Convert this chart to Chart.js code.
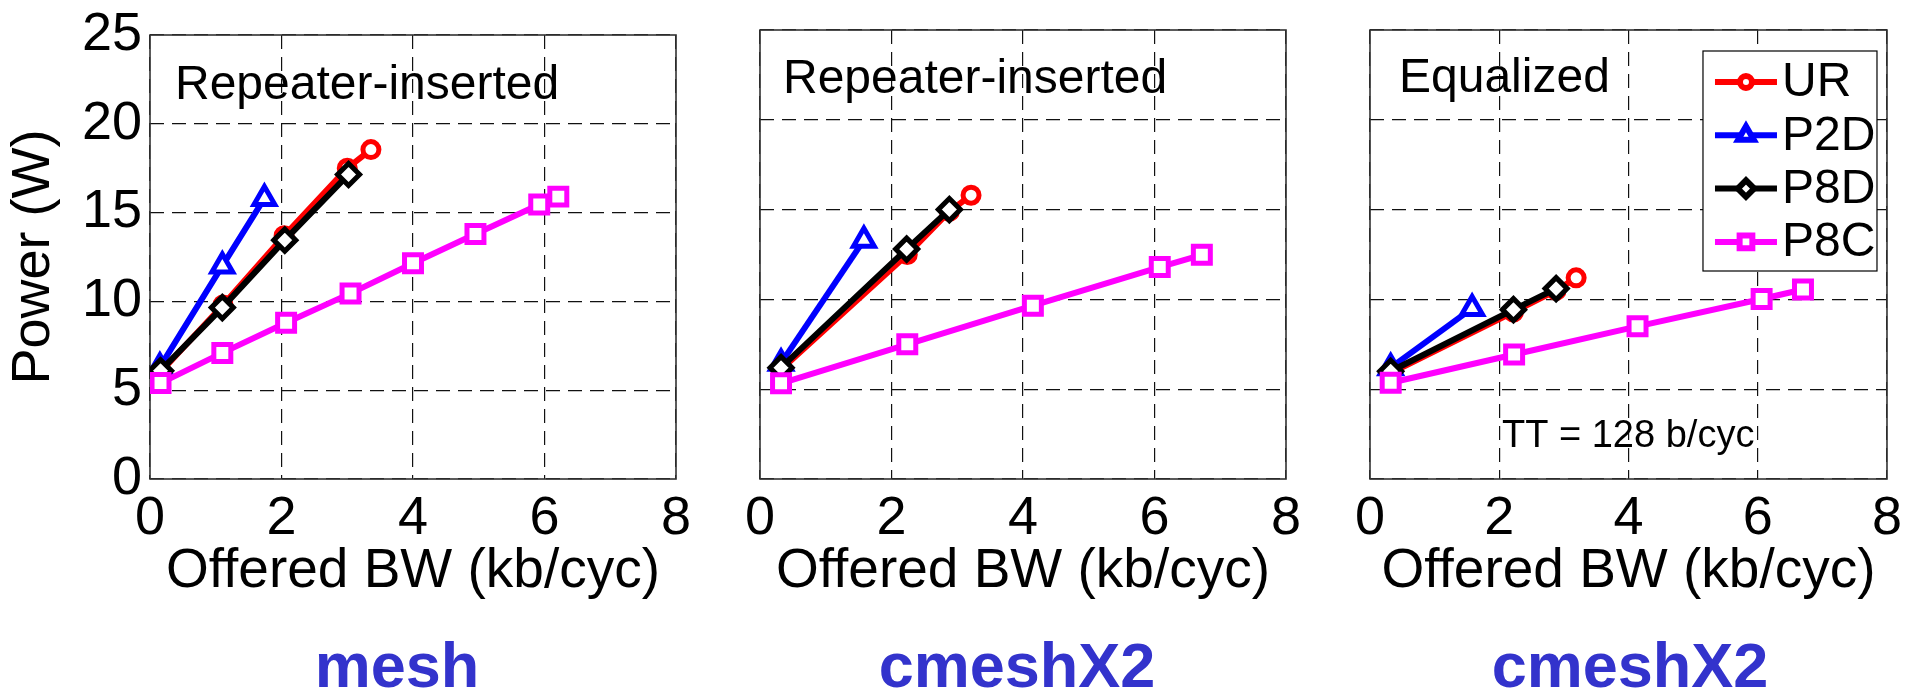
<!DOCTYPE html>
<html>
<head>
<meta charset="utf-8">
<script src="https://cdn.jsdelivr.net/npm/chart.js@4.4.0/dist/chart.umd.min.js"></script>
<style>
  html, body { margin: 0; padding: 0; background: #fff; }
  body { width: 1915px; height: 691px; position: relative; overflow: hidden; }
  canvas { position: absolute; top: 0; }
  .net { position: absolute; top: 634px; width: 400px; text-align: center;
         font: bold 63px/63px "Liberation Sans", Arial, sans-serif; color: #3333cc; }
</style>
</head>
<body>
<canvas id="p1" width="720" height="691" style="left:0px"></canvas>
<canvas id="p2" width="610" height="691" style="left:720px"></canvas>
<canvas id="p3" width="585" height="691" style="left:1330px"></canvas>
<div class="net" style="left:197px">mesh</div>
<div class="net" style="left:817px">cmeshX2</div>
<div class="net" style="left:1430px">cmeshX2</div>
<script>
// axis ticks
const bwTicks = [0, 2, 4, 6, 8];
const powerTicks = [0, 5, 10, 15, 20, 25];
const seriesNames = ['UR', 'P2D', 'P8D', 'P8C'];
const panelNotes = ['Repeater-inserted', 'Repeater-inserted', 'Equalized'];
const ttNote = 'TT = 128 b/cyc';

// mesh, repeater-inserted
const meshUR_bw  = [0.13, 1.11, 2.04, 3.00, 3.36];
const meshUR_pw  = [5.9, 9.8, 13.7, 17.5, 18.55];
const meshP2D_bw = [0.15, 1.10, 1.74];
const meshP2D_pw = [6.3, 12.0, 15.8];
const meshP8D_bw = [0.16, 1.10, 2.05, 3.02];
const meshP8D_pw = [6.1, 9.65, 13.45, 17.15];
const meshP8C_bw = [0.16, 1.10, 2.07, 3.05, 4.00, 4.95, 5.92, 6.21];
const meshP8C_pw = [5.4, 7.1, 8.8, 10.45, 12.15, 13.8, 15.45, 15.9];

// cmeshX2, repeater-inserted
const cmUR_bw  = [0.32, 2.24, 2.88, 3.21];
const cmUR_pw  = [6.1, 12.5, 14.9, 15.8];
const cmP2D_bw = [0.32, 1.58];
const cmP2D_pw = [6.45, 13.3];
const cmP8D_bw = [0.32, 2.23, 2.88];
const cmP8D_pw = [6.2, 12.8, 15.0];
const cmP8C_bw = [0.32, 2.24, 4.15, 6.08, 6.72];
const cmP8C_pw = [5.33, 7.5, 9.65, 11.8, 12.48];

// cmeshX2, equalized
const eqUR_bw  = [0.32, 2.22, 2.88, 3.19];
const eqUR_pw  = [5.9, 9.3, 10.5, 11.2];
const eqP2D_bw = [0.32, 1.58];
const eqP2D_pw = [6.2, 9.5];
const eqP8D_bw = [0.32, 2.22, 2.88];
const eqP8D_pw = [6.0, 9.43, 10.6];
const eqP8C_bw = [0.32, 2.23, 4.14, 6.06, 6.70];
const eqP8C_pw = [5.36, 6.93, 8.5, 10.02, 10.55];

const FONT = '"Liberation Sans", Arial, sans-serif';
Chart.defaults.font.family = FONT;
Chart.defaults.color = '#000';

const styles = {
  UR:  { color: '#ff0000', point: 'circle',   r: 8,  order: 4 },
  P2D: { color: '#0000ff', point: 'triangle', r: 12, order: 3 },
  P8D: { color: '#000000', point: 'rectRot',  r: 11, order: 2 },
  P8C: { color: '#ff00ff', point: 'rect',     r: 12, order: 1 }
};

function series(name, bw, pw) {
  const s = styles[name];
  return {
    label: name,
    data: bw.map((x, i) => ({ x: x, y: pw[i] })),
    borderColor: s.color,
    backgroundColor: '#fff',
    borderWidth: 6,
    pointStyle: s.point,
    pointRadius: s.r,
    pointBorderWidth: 5,
    pointBorderColor: s.color,
    pointBackgroundColor: '#fff',
    order: s.order
  };
}

// plot frame, text notes and the inside legend
const framePlugin = {
  id: 'frame',
  beforeDatasetsDraw(chart, args, opts) {
    const { ctx, chartArea: a } = chart;
    ctx.save();
    ctx.strokeStyle = '#333';
    ctx.lineWidth = 1.6;
    ctx.strokeRect(a.left, a.top, a.right - a.left, a.bottom - a.top);
    ctx.fillStyle = '#000';
    ctx.textAlign = 'left';
    ctx.textBaseline = 'alphabetic';
    (opts.notes || []).forEach(n => {
      ctx.font = n.size + 'px ' + FONT;
      ctx.fillText(n.text, a.left + n.dx, a.top + n.dy);
    });
    ctx.restore();
  },
  afterDatasetsDraw(chart, args, opts) {
    if (!opts.legend) return;
    const { ctx, chartArea: a } = chart;
    const l = a.right - 184, r = a.right - 10, t = a.top + 21, b = a.top + 241;
    ctx.save();
    ctx.fillStyle = '#fff';
    ctx.fillRect(l, t, r - l, b - t);
    ctx.strokeStyle = '#000';
    ctx.lineWidth = 1.2;
    ctx.strokeRect(l, t, r - l, b - t);
    chart.data.datasets.forEach((ds, i) => {
      const y = a.top + 52 + i * 53.3;
      ctx.strokeStyle = ds.borderColor;
      ctx.lineWidth = 6;
      ctx.beginPath();
      ctx.moveTo(l + 12, y);
      ctx.lineTo(l + 74, y);
      ctx.stroke();
      ctx.fillStyle = '#fff';
      Chart.helpers.drawPoint(ctx, {
        pointStyle: ds.pointStyle, radius: ds.pointRadius * 0.75,
        rotation: 0, borderWidth: 4.5
      }, l + 43, y);
      ctx.fillStyle = '#000';
      ctx.font = '48px ' + FONT;
      ctx.textBaseline = 'middle';
      ctx.textAlign = 'left';
      ctx.fillText(ds.label, l + 79, y + 1);
    });
    ctx.restore();
  }
};

function makePanel(id, datasets, pad, withY, notes, legend) {
  new Chart(document.getElementById(id), {
    type: 'line',
    data: { datasets: datasets },
    plugins: [framePlugin],
    options: {
      responsive: false,
      animation: false,
      layout: { padding: pad },
      plugins: {
        legend: { display: false },
        tooltip: { enabled: false },
        frame: { notes: notes, legend: legend }
      },
      scales: {
        x: {
          type: 'linear', min: 0, max: 8,
          afterBuildTicks: s => { s.ticks = bwTicks.map(v => ({ value: v })); },
          afterFit: s => { s.height = 212; },
          grid: { color: '#111', lineWidth: 1.2, drawTicks: false },
          border: { display: false, dash: [14, 8] },
          ticks: { font: { size: 54, lineHeight: 1 }, padding: 13, autoSkip: false, maxRotation: 0 },
          title: { display: true, text: 'Offered BW (kb/cyc)', font: { size: 55, lineHeight: 1 },
                   padding: { top: 0, bottom: 92 } }
        },
        y: {
          type: 'linear', min: 0, max: 25,
          afterBuildTicks: s => { s.ticks = powerTicks.map(v => ({ value: v })); },
          afterFit: s => { s.width = withY ? 150 : 0; },
          grid: { color: '#111', lineWidth: 1.2, drawTicks: false },
          border: { display: false, dash: [14, 8] },
          ticks: { display: withY, font: { size: 54, lineHeight: 1 }, padding: 8 },
          title: { display: withY, text: 'Power (W)', font: { size: 54, lineHeight: 1 },
                   padding: { top: 7, bottom: 0 } }
        }
      }
    }
  });
}

makePanel('p1', [
  series('UR', meshUR_bw, meshUR_pw),
  series('P2D', meshP2D_bw, meshP2D_pw),
  series('P8D', meshP8D_bw, meshP8D_pw),
  series('P8C', meshP8C_bw, meshP8C_pw)
], { top: 30, right: 44, left: 0, bottom: 0 }, true,
  [{ text: panelNotes[0], size: 48, dx: 25, dy: 64 }], false);

makePanel('p2', [
  series('UR', cmUR_bw, cmUR_pw),
  series('P2D', cmP2D_bw, cmP2D_pw),
  series('P8D', cmP8D_bw, cmP8D_pw),
  series('P8C', cmP8C_bw, cmP8C_pw)
], { top: 30, right: 44, left: 40, bottom: 0 }, false,
  [{ text: panelNotes[1], size: 48, dx: 23, dy: 63 }], false);

makePanel('p3', [
  series('UR', eqUR_bw, eqUR_pw),
  series('P2D', eqP2D_bw, eqP2D_pw),
  series('P8D', eqP8D_bw, eqP8D_pw),
  series('P8C', eqP8C_bw, eqP8C_pw)
], { top: 30, right: 20, left: 40, bottom: 0 }, false,
  [{ text: panelNotes[2], size: 48, dx: 29, dy: 62 },
   { text: ttNote, size: 38, dx: 132, dy: 417 }], true);
</script>
</body>
</html>
